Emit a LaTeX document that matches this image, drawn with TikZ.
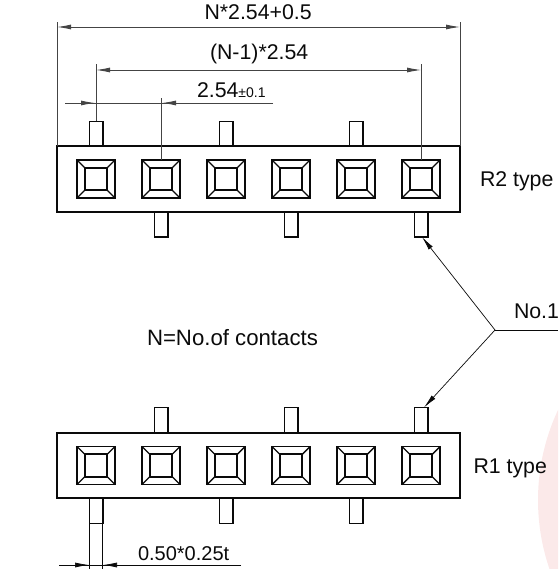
\documentclass[tikz,border=0pt]{standalone}
\usepackage{fontspec}
\setmainfont{Liberation Sans}
\usetikzlibrary{arrows.meta}
\definecolor{ink}{HTML}{0A0A0A}
\definecolor{dimgrey}{HTML}{444444}
\definecolor{wm}{HTML}{FBE9E9}
\tikzset{
  x=1pt,y=-1pt,
  body/.style={draw=ink,line width=2pt,fill=white,minimum width=403pt,minimum height=65pt,inner sep=0pt,outer sep=0pt},
  pin/.style={draw=ink,line width=1.5pt,fill=white,minimum width=13.5pt,minimum height=25pt,inner sep=0pt,outer sep=0pt},
  socket/.style={draw=ink,line width=1.7pt,minimum width=38pt,minimum height=38pt,inner sep=0pt,outer sep=0pt},
  socketin/.style={draw=ink,line width=1.7pt,minimum width=22.5pt,minimum height=22.5pt,inner sep=0pt,outer sep=0pt},
  dimline/.style={draw=dimgrey,line width=0.9pt},
  extline/.style={draw=dimgrey,line width=1pt},
  tipped/.style={-{Latex[length=14pt,width=5pt]}},
  label/.style={anchor=base west,inner sep=0pt,outer sep=0pt,text=ink,font=\fontsize{21.3}{25}\selectfont}
}
\begin{document}
\begin{tikzpicture}
\useasboundingbox (0,0) rectangle (558,569);
\begin{scope}
\clip (0,0) rectangle (558,569);
\fill[wm] (750,500) circle (212);
\end{scope}
% pins
\foreach \n/\x/\y in {a/96/134,b/226/134,c/356/134,d/161/224.5,e/291/224.5,f/421/224.5,
                      g/161/420,h/291/420,i/421/420,j/96/511,k/226/511,l/356/511}
  \node[pin] (pin\n) at (\x,\y) {};
% bodies
\node[body] (top) at (258.5,179) {};
\node[body] (bot) at (258.5,465.5) {};
% sockets
\foreach \x [count=\k] in {96,161,226,291,356,421} {
  \foreach \r/\y in {t/179,b/465.5} {
    \node[socket] (s\r\k) at (\x,\y) {};
    \node[socketin] (i\r\k) at (\x,\y) {};
    \foreach \c in {north west,north east,south west,south east}
      \draw[draw=ink,line width=1.4pt] (s\r\k.\c) -- (i\r\k.\c);
  }
}
% extension lines
\coordinate (e1) at (57,22); \coordinate (e2) at (460,22);
\coordinate (e3) at (96,64); \coordinate (e4) at (421,64);
\coordinate (e5) at (161,98);
\draw[extline] (top.north west) -- (e1);
\draw[extline] (top.north east) -- (e2);
\draw[extline] (pina.north) -- (e3);
\draw[extline] (st6.north) -- (e4);
\draw[extline] (st2.north) -- (e5);
% dimension lines
\coordinate (d1a) at (57,27); \coordinate (d1b) at (460,27);
\coordinate (d2a) at (96,70); \coordinate (d2b) at (421,70);
\draw[dimline,tipped] (258,27) -- (d1a);
\draw[dimline,tipped] (258,27) -- (d1b);
\draw[dimline,tipped] (258,70) -- (d2a);
\draw[dimline,tipped] (258,70) -- (d2b);
\coordinate (d3a) at (65,103); \coordinate (d3b) at (95,103);
\coordinate (d3c) at (273,103); \coordinate (d3d) at (162,103);
\draw[dimline] (d3a) -- (d3c);
\draw[dimline,tipped] (d3a) -- (d3b);
\draw[dimline,tipped] (d3c) -- (d3d);
% bottom dim
\coordinate (b1) at (0,569);
\draw[line width=0.6pt,ink] (pinj.south west) -- (pinj.south west |- b1);
\draw[line width=0.6pt,ink] (pinj.south east) -- (pinj.south east |- b1);
\coordinate (b3) at (59,565); \coordinate (b4) at (89,565);
\coordinate (b5) at (241,565); \coordinate (b6) at (103,565);
\draw[line width=0.7pt,ink] (b3) -- (b5);
\draw[line width=0.7pt,ink,tipped] (b3) -- (b4);
\draw[line width=0.7pt,ink,tipped] (b5) -- (b6);
% leader
\coordinate (lj) at (495,330); \coordinate (le) at (558,330);
\draw[line width=0.8pt,ink] (lj) -- (le);
\draw[line width=0.7pt,ink,tipped] (lj) -- ([xshift=1pt]pinf.south);
\draw[line width=0.7pt,ink,tipped] (lj) -- ([xshift=3pt]pini.north);
% labels
\node[label] (l1) at (204.5,20) {N*2.54+0.5};
\node[label] (l2) at (210,60) {(N-1)*2.54};
\node[label] (l3) at (197,98) {2.54{\fontsize{14}{16}\selectfont±0.1}};
\node[label] (l4) at (480,186) {R2 type};
\node[label] (l5) at (514,318) {No.1};
\node[label,font=\fontsize{22.2}{26}\selectfont] (l6) at (147,345) {N=No.of contacts};
\node[label] (l7) at (473.5,473) {R1 type};
\node[label,font=\fontsize{20}{24}\selectfont] (l8) at (138,560) {0.50*0.25t};
\end{tikzpicture}
\end{document}
